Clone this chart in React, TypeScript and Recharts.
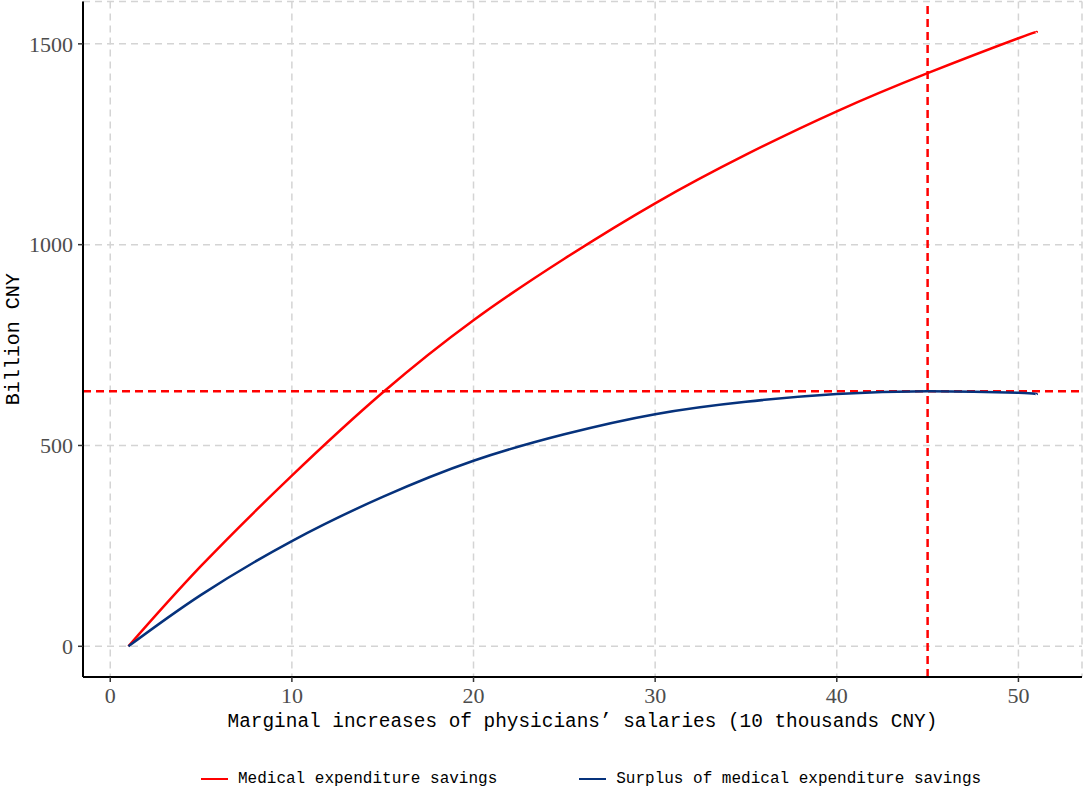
import { CartesianGrid, Label, Line, LineChart, ReferenceLine, XAxis, YAxis } from "recharts";

// salary increase (10 thousand CNY)
const salaryIncrease = [1, 5, 10, 15, 20, 25, 30, 35, 40, 45, 50, 51];
// billion CNY
const expenditureSavings = [0, 200, 425, 632, 812, 965, 1103, 1224, 1332, 1427, 1514, 1529];
const savingsSurplus = [0, 128, 262, 372, 462, 528, 578, 609, 628, 635, 631, 627];

const xTicks = [0, 10, 20, 30, 40, 50];
const yTicks = [0, 500, 1000, 1500];

const optimumSalary = 45;
const maxSurplus = 635;

const series = [
  { key: "savings", name: "Medical expenditure savings", color: "#ff0000" },
  { key: "surplus", name: "Surplus of medical expenditure savings", color: "#06327c" },
];

const data = salaryIncrease.map((x, i) => ({
  x,
  savings: expenditureSavings[i],
  surplus: savingsSurplus[i],
}));

// ggplot-style 5% expansion
const xMin = Math.min(...salaryIncrease);
const xMax = Math.max(...salaryIncrease);
const yMax = Math.max(...expenditureSavings);
const xPad = (xMax - xMin) * 0.05;
const yPad = yMax * 0.05;

const mono = "'Liberation Mono', 'DejaVu Sans Mono', monospace";
const serif = "'Liberation Serif', 'DejaVu Serif', serif";

export default function App() {
  return (
    <div style={{ position: "relative", width: 1084, height: 790, background: "#fff" }}>
      <style>{"body{margin:0}"}</style>
      <LineChart width={1084} height={790} data={data} margin={{ top: 1.5, right: 2, left: 0, bottom: 0 }}>
        <CartesianGrid stroke="#d4d4d4" strokeWidth={1.5} strokeDasharray="7 5" />
        <XAxis
          dataKey="x"
          type="number"
          domain={[xMin - xPad, xMax + xPad]}
          ticks={xTicks}
          allowDataOverflow
          height={113}
          axisLine={{ stroke: "#000", strokeWidth: 2 }}
          tickLine={{ stroke: "#333", strokeWidth: 1.5 }}
          tickSize={5}
          tickMargin={5}
          tick={{ fontFamily: serif, fontSize: 22, fill: "#4d4d4d" }}
        >
          <Label
            content={({ viewBox }: any) => (
              <text
                x={viewBox.x + viewBox.width / 2}
                y={727}
                textAnchor="middle"
                fontFamily={mono}
                fontSize={19.4}
                fill="#000"
              >
                Marginal increases of physicians’ salaries (10 thousands CNY)
              </text>
            )}
          />
        </XAxis>
        <YAxis
          type="number"
          domain={[-yPad, yMax + yPad]}
          ticks={yTicks}
          allowDataOverflow
          width={83}
          axisLine={{ stroke: "#000", strokeWidth: 2 }}
          tickLine={{ stroke: "#333", strokeWidth: 1.5 }}
          tickSize={5}
          tickMargin={5}
          tick={{ fontFamily: serif, fontSize: 22, fill: "#4d4d4d" }}
        >
          <Label
            content={({ viewBox }: any) => {
              const cx = 13;
              const cy = viewBox.y + viewBox.height / 2;
              return (
                <text
                  x={cx}
                  y={cy}
                  transform={`rotate(-90 ${cx} ${cy})`}
                  textAnchor="middle"
                  dominantBaseline="central"
                  fontFamily={mono}
                  fontSize={20}
                  fill="#000"
                >
                  Billion CNY
                </text>
              );
            }}
          />
        </YAxis>
        <ReferenceLine y={maxSurplus} stroke="#ff0000" strokeWidth={2.5} strokeDasharray="8 5" />
        <ReferenceLine x={optimumSalary} stroke="#ff0000" strokeWidth={2.5} strokeDasharray="8 5" />
        {series.map((s) => (
          <Line
            key={s.key}
            type="natural"
            dataKey={s.key}
            name={s.name}
            stroke={s.color}
            strokeWidth={2.5}
            dot={false}
            isAnimationActive={false}
          />
        ))}
      </LineChart>
      <div
        style={{
          position: "absolute",
          left: 201,
          top: 769,
          height: 20,
          display: "flex",
          alignItems: "center",
          fontFamily: mono,
          fontSize: 16,
          color: "#000",
          whiteSpace: "nowrap",
        }}
      >
        {series.map((s, i) => (
          <div key={s.key} style={{ display: "flex", alignItems: "center", marginRight: i === 0 ? 82 : 0 }}>
            <div style={{ width: 27, height: 2.5, background: s.color, marginRight: 10 }} />
            <span>{s.name}</span>
          </div>
        ))}
      </div>
    </div>
  );
}
